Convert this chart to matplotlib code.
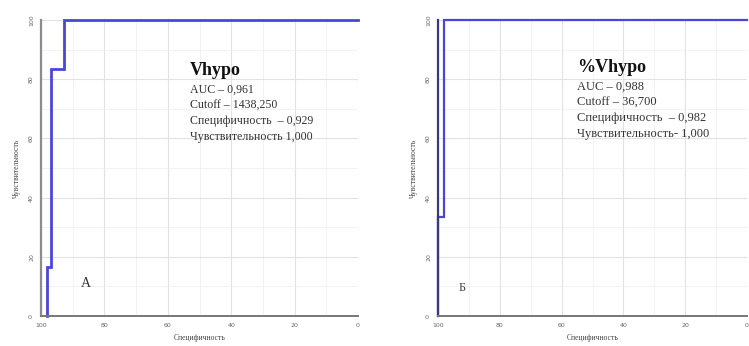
import matplotlib
matplotlib.use("Agg")
import matplotlib.pyplot as plt
from matplotlib.ticker import MultipleLocator

# ROC curve vertices (specificity %, sensitivity %)
SPEC_A = [98.2, 98.2, 96.8, 96.8, 92.9, 92.9, 0.0]
SENS_A = [0.0, 16.7, 16.7, 83.3, 83.3, 100.0, 100.0]

SPEC_B = [100.0, 100.0, 98.2, 98.2, 0.0]
SENS_B = [0.0, 33.3, 33.3, 100.0, 100.0]

TICKS = [0, 20, 40, 60, 80, 100]

TITLE_A = "Vhypo"
LINES_A = ["AUC – 0,961", "Cutoff – 1438,250",
           "Специфичность  – 0,929", "Чувствительность 1,000"]
TITLE_B = "%Vhypo"
LINES_B = ["AUC – 0,988", "Cutoff – 36,700",
           "Специфичность  – 0,982", "Чувствительность- 1,000"]

LINE_COLOR = "#4a46d8"
SERIF = "Liberation Serif"

fig = plt.figure(figsize=(7.49, 3.46), dpi=100)
ax_a = fig.add_axes([41 / 749, 30 / 346, 317 / 749, 296 / 346])
ax_b = fig.add_axes([438 / 749, 30 / 346, 309 / 749, 296 / 346])


def style_axes(ax, spine_color):
    ax.set_xlim(100, 0)
    ax.set_ylim(0, 100)
    ax.set_xticks(TICKS)
    ax.set_yticks(TICKS)
    ax.xaxis.set_minor_locator(MultipleLocator(10))
    ax.yaxis.set_minor_locator(MultipleLocator(10))
    ax.grid(which="major", color="#e2e2e2", linewidth=0.8)
    ax.grid(which="minor", color="#f0f0f0", linewidth=0.6)
    ax.set_axisbelow(True)
    for side in ("top", "right"):
        ax.spines[side].set_visible(False)
    ax.spines["left"].set_color(spine_color)
    ax.spines["left"].set_linewidth(1.6)
    ax.spines["bottom"].set_color("#777777")
    ax.spines["bottom"].set_linewidth(1.4)
    ax.tick_params(which="both", length=0, labelsize=4.5, labelcolor="#666666",
                   pad=5)
    ax.tick_params(axis="y", labelrotation=90)
    for lbl in ax.get_yticklabels():
        lbl.set_va("center")
    ax.set_xlabel("Специфичность", fontsize=5.5, family=SERIF, color="#444444",
                  labelpad=4)
    ax.set_ylabel("Чувствительность", fontsize=5.5, family=SERIF,
                  color="#444444", labelpad=6)


style_axes(ax_a, "#8c8c8c")
style_axes(ax_b, "#3a3a7a")

ax_a.plot(SPEC_A, SENS_A, color=LINE_COLOR, linewidth=2.0, clip_on=False,
          solid_joinstyle="miter")
ax_b.plot(SPEC_B, SENS_B, color=LINE_COLOR, linewidth=1.6, clip_on=False,
          solid_joinstyle="miter")


def info_block(ax, x, y, title, lines, step, size):
    ax.text(x, y, title, transform=ax.transAxes, family=SERIF,
            fontweight="bold", fontsize=13, va="center", color="#111111")
    for i, line in enumerate(lines):
        ax.text(x, y - 0.01 - step * (i + 1), line, transform=ax.transAxes,
                family=SERIF, fontsize=size, va="center", color="#333333")


info_block(ax_a, 0.47, 0.83, TITLE_A, LINES_A, 0.054, 8.6)
info_block(ax_b, 0.45, 0.84, TITLE_B, LINES_B, 0.054, 9.0)

ax_a.text(0.14, 0.11, "А", transform=ax_a.transAxes, family=SERIF,
          fontsize=10, va="center", ha="center", color="#333333")
ax_b.text(0.08, 0.095, "Б", transform=ax_b.transAxes, family=SERIF,
          fontsize=9, va="center", ha="center", color="#444444")

fig.savefig("out.png", dpi=100)
